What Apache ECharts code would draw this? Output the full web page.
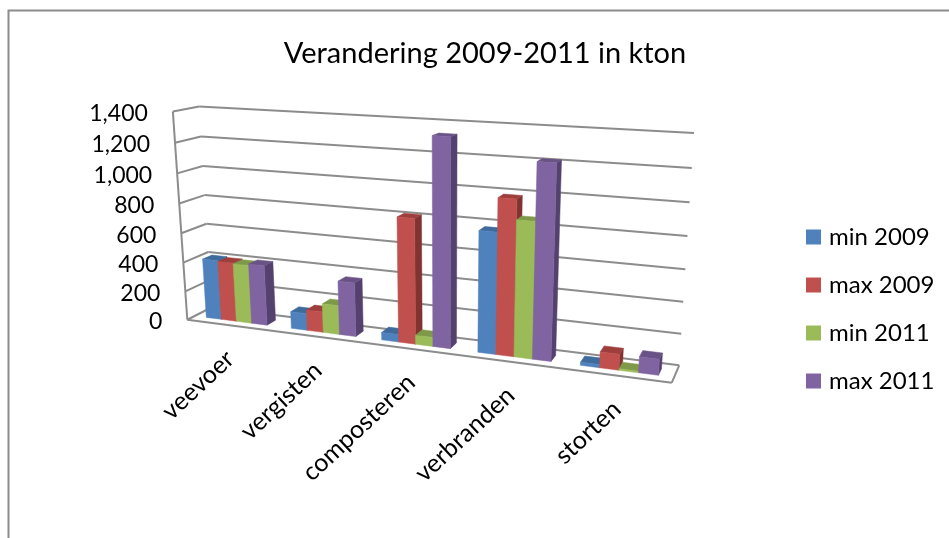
<!DOCTYPE html>
<html><head><meta charset="utf-8">
<style>html,body{margin:0;padding:0;background:#fff}#c{width:949px;height:538px}</style>
<script src="https://cdn.jsdelivr.net/npm/echarts@6/dist/echarts.min.js"></script>
</head><body><div id="c"></div>
<script>
const categories = ['veevoer','vergisten','composteren','verbranden','storten'];
const min2009 = [410,115,50,775,20];
const max2009 = [405,140,815,985,100];
const min2011 = [400,195,60,860,10];
const max2011 = [410,360,1330,1215,100];
const tickValues = [0,200,400,600,800,1000,1200,1400];
const seriesNames = ['min 2009','max 2009','min 2011','max 2011'];
const seriesColors = [
  {front:'#4F81BD',top:'#3F6A9C',side:'#375A85'},
  {front:'#C0504D',top:'#9E3F3D',side:'#803331'},
  {front:'#9BBB59',top:'#7E9A48',side:'#66803A'},
  {front:'#8064A2',top:'#695285',side:'#54416D'}
];
const FONT = 'Lato, "Open Sans", sans-serif';
const GRID = '#8C8C8C';

// perspective view of the 3D box (fitted to the box's visible corners)
const corners = [
  [0,0,0,187,319],[0,1,0,173,112],[1,0,0,672,383],
  [0,0,1,212,308],[0,1,1,199,106],[1,0,1,679,365],[1,1,1,694,133]
];
function fitCamera(pts){
  const S=500, rows=[], rhs=[];
  pts.forEach(([x,y,z,a,b])=>{ a/=S; b/=S;
    rows.push([x,y,z,1,0,0,0,0,-a*x,-a*y,-a*z]); rhs.push(a);
    rows.push([0,0,0,0,x,y,z,1,-b*x,-b*y,-b*z]); rhs.push(b);
  });
  const n=11, A=[];
  for(let i=0;i<n;i++)A.push(new Array(n+1).fill(0));
  rows.forEach((r,k)=>{for(let i=0;i<n;i++){for(let j=0;j<n;j++)A[i][j]+=r[i]*r[j];A[i][n]+=r[i]*rhs[k];}});
  for(let i=0;i<n;i++)A[i][i]+=1e-9;
  for(let c=0;c<n;c++){let p=c;for(let r=c+1;r<n;r++)if(Math.abs(A[r][c])>Math.abs(A[p][c]))p=r;
    [A[c],A[p]]=[A[p],A[c]];
    for(let r=0;r<n;r++){if(r===c)continue;const f=A[r][c]/A[c][c];for(let j=c;j<=n;j++)A[r][j]-=f*A[c][j];}}
  const m=A.map((r,i)=>r[n]/r[i]);
  return (x,y,z)=>{const w=m[8]*x+m[9]*y+m[10]*z+1;
    return [S*(m[0]*x+m[1]*y+m[2]*z+m[3])/w, S*(m[4]*x+m[5]*y+m[6]*z+m[7])/w];};
}
const project = fitCamera(corners);

// bar layout inside a category band / the depth of the box
const BAR_SPAN = 0.72, Z0 = 0.3, Z1 = 0.68;

function norm(params,px,py){const c=params.coordSys;return [(px-c.x)/c.width,(c.y+c.height-py)/c.height];}
function poly(points,fill){return {type:'polygon',shape:{points},style:{fill,stroke:fill,lineWidth:0.5}};}

function barRender(si){
  return function(params,api){
    const cat=api.value(0), val=api.value(1);
    const band=api.size([1,0])[0];
    const base=api.coord([cat,0]), top=api.coord([cat,val]);
    const w=BAR_SPAN*band/4;
    const x0=base[0]-BAR_SPAN*band/2+si*w, x1=x0+w;
    const [u0,v0]=norm(params,x0,base[1]);
    const [u1]=norm(params,x1,base[1]);
    const [,v1]=norm(params,x0,top[1]);
    const p=(u,v,z)=>project(u,v,z);
    const col=seriesColors[si];
    return {type:'group',children:[
      poly([p(u1,v0,Z0),p(u1,v0,Z1),p(u1,v1,Z1),p(u1,v1,Z0)],col.side),
      poly([p(u0,v1,Z0),p(u1,v1,Z0),p(u1,v1,Z1),p(u0,v1,Z1)],col.top),
      poly([p(u0,v0,Z0),p(u1,v0,Z0),p(u1,v1,Z0),p(u0,v1,Z0)],col.front)
    ]};
  };
}
function line(a,b){return {type:'line',shape:{x1:a[0],y1:a[1],x2:b[0],y2:b[1]},style:{stroke:GRID,lineWidth:2}};}
function gridRender(params,api){
  const val=api.value(0);
  const c=api.coord([0,val]);
  const [,v]=norm(params,c[0],c[1]);
  const kids=[line(project(0,v,0),project(0,v,1)),line(project(0,v,1),project(1,v,1))];
  if(val===0){kids.push(line(project(0,0,0),project(1,0,0)),line(project(1,0,0),project(1,0,1)),
    line(project(0,0,0),project(0,1,0)));}
  const f=project(0,v,0);
  kids.push({type:'text',x:f[0]-25,y:f[1]+2,style:{text:val.toLocaleString('en-US'),fill:'#000',font:'23px '+FONT,align:'right',verticalAlign:'middle'}});
  return {type:'group',children:kids};
}
function catLabelRender(params,api){
  const i=api.value(0);
  const c=api.coord([i,0]);
  const [u,v]=norm(params,c[0],c[1]);
  const f=project(u,v,0);
  return {type:'text',x:f[0]+1,y:f[1]+30,rotation:43*Math.PI/180,
    style:{text:categories[i],fill:'#000',font:'25px '+FONT,align:'right',verticalAlign:'middle'}};
}
const barData=[min2009,max2009,min2011,max2011];
const chart=echarts.init(document.getElementById('c'),null,{renderer:'canvas'});
chart.setOption({
  animation:false,
  backgroundColor:'#fff',
  title:{text:'Verandering 2009-2011 in kton',left:480,top:34,textAlign:'center',
    textStyle:{fontFamily:FONT,fontSize:29,fontWeight:'normal',color:'#000'}},
  grid:{left:187,top:112,width:485,height:208},
  xAxis:{type:'category',data:categories,show:false},
  yAxis:{type:'value',min:0,max:1400,interval:200,show:false},
  legend:{orient:'vertical',left:801,top:220,itemWidth:15,itemHeight:15,itemGap:24,icon:'rect',
    data:seriesNames,selectedMode:false,
    textStyle:{fontFamily:FONT,fontSize:24,color:'#000',padding:[0,0,0,3]}},
  graphic:[
    {type:'polyline',silent:true,shape:{points:[[8.5,538],[8.5,10.5],[949,10.5]]},style:{stroke:GRID,lineWidth:2,fill:null}}
  ],
  series:[
    {type:'custom',name:'grid',coordinateSystem:'cartesian2d',renderItem:gridRender,silent:true,
      encode:{y:0},data:tickValues.map(v=>[v])},
    ...seriesNames.map((n,si)=>({type:'custom',name:n,coordinateSystem:'cartesian2d',renderItem:barRender(si),
      itemStyle:{color:seriesColors[si].front},encode:{x:0,y:1},
      data:barData[si].map((v,i)=>[i,v])})),
    {type:'custom',name:'labels',coordinateSystem:'cartesian2d',renderItem:catLabelRender,silent:true,
      encode:{x:0},data:categories.map((c,i)=>[i])}
  ]
});
</script></body></html>
